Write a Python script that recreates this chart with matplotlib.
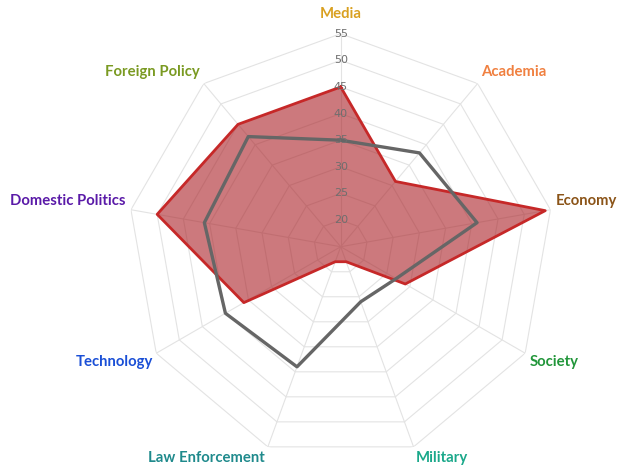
import numpy as np
import matplotlib
matplotlib.use("Agg")
import matplotlib.pyplot as plt

categories = ["Media", "Academia", "Economy", "Society", "Military",
              "Law Enforcement", "Technology", "Domestic Politics", "Foreign Policy"]
label_colors = ["#D9A020", "#F08040", "#8B5418", "#22963A", "#1AA88A",
                "#1F8A8C", "#1A4FD6", "#5A1AA8", "#7A9A22"]
series_red = [45, 31, 54, 29, 18, 18, 36, 50, 45]
series_gray = [35, 38, 41, 27, 26, 39, 40, 41, 42]
ticks = [20, 25, 30, 35, 40, 45, 50, 55]
r_min, r_max = 15, 55

# label offsets in pixels from the outer vertex (layout only)
label_offsets = [(0, 20), (3, 12), (5, 9), (5, -9), (2, -11),
                 (-3, -11), (-3, -9), (-5, 9), (-4, 12)]
label_ha = ["center", "left", "left", "left", "left",
            "right", "right", "right", "right"]

n = len(categories)
theta = np.linspace(0, 2 * np.pi, n, endpoint=False)
theta_c = np.append(theta, theta[0])

fig = plt.figure(figsize=(6.18, 4.67), dpi=100)
ax = fig.add_axes([0.2066, 0.0156, 0.6894, 0.9122], projection="polar")
ax.set_theta_offset(np.pi / 2)
ax.set_theta_direction(-1)
ax.set_ylim(r_min, r_max)
ax.grid(False)
ax.spines["polar"].set_visible(False)
ax.set_xticks([])
ax.set_yticks([])
ax.patch.set_alpha(0)

# polygon grid
for t in ticks:
    ax.plot(theta_c, [t] * (n + 1), color="#E3E3E3", lw=0.8, zorder=1)
for th in theta:
    ax.plot([th, th], [r_min, r_max], color="#E3E3E3", lw=0.8, zorder=1)

# series
red = np.append(series_red, series_red[0])
gray = np.append(series_gray, series_gray[0])
ax.fill(theta_c, red, color=(170 / 255, 32 / 255, 38 / 255), alpha=0.6, lw=0, zorder=2)
ax.plot(theta_c, red, color="#C62828", lw=2, zorder=3)
ax.plot(theta_c, gray, color="#666666", lw=2.4, zorder=4)

# radial tick labels
for t in ticks:
    ax.text(0, t, str(t), ha="center", va="center", fontsize=8,
            color="#6E6E6E", zorder=5)

# category labels
for th, name, col, off, ha in zip(theta, categories, label_colors, label_offsets, label_ha):
    ax.annotate(name, xy=(th, r_max), xytext=off, textcoords="offset pixels",
                ha=ha, va="center", fontsize=10.7, fontweight="bold", color=col,
                family=["Lato", "DejaVu Sans"], annotation_clip=False)

fig.savefig("out.png", dpi=100)
